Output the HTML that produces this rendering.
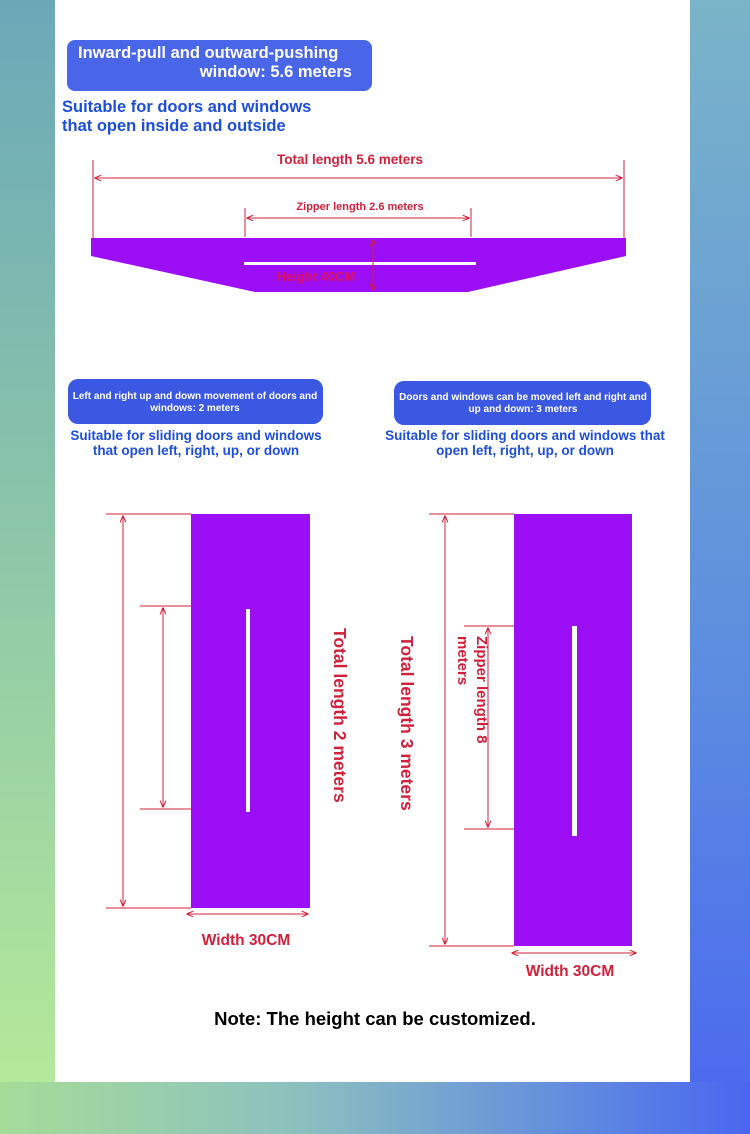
<!DOCTYPE html>
<html><head><meta charset="utf-8"><style>
html,body{margin:0;padding:0}
body{width:750px;height:1134px;position:relative;overflow:hidden;font-family:"Liberation Sans",sans-serif;
background:linear-gradient(90deg,#8fd0a0 0%,#7fb6c8 40%,#5a86e0 75%,#4a6af0 100%);}
.l{position:absolute;left:0;top:0;width:55px;height:1134px;background:linear-gradient(180deg,#6aa8b8 0%,#8fc8a8 50%,#b8ec98 100%)}
.r{position:absolute;left:690px;top:0;width:60px;height:1134px;background:linear-gradient(180deg,#7ab4c8 0%,#5c8ce0 60%,#4a66f0 100%)}
.b{position:absolute;left:0;top:1082px;width:750px;height:52px;background:linear-gradient(90deg,#a6dc98 0%,#8cc0c0 40%,#5d86e2 80%,#4a66f0 100%)}
.w{position:absolute;left:55px;top:0;width:635px;height:1082px;background:#fff}
svg{position:absolute;left:0;top:0}
</style></head><body>
<div class="l"></div><div class="r"></div><div class="b"></div><div class="w"></div>
<svg width="750" height="1134" viewBox="0 0 750 1134" font-family="Liberation Sans, sans-serif" font-weight="bold">
<defs><marker id="a" viewBox="0 0 10 10" refX="9" refY="5" markerWidth="7" markerHeight="7" orient="auto-start-reverse"><path d="M0,1 L10,5 L0,9" fill="none" stroke="#d0203a" stroke-width="1.5"/></marker></defs>
<rect x="67" y="40" width="305" height="51" rx="8" fill="#4a66e8"/>
<text x="78" y="58" fill="#fff" font-size="16.5">Inward-pull and outward-pushing</text>
<text x="352" y="77" fill="#fff" font-size="16.5" text-anchor="end">window: 5.6 meters</text>
<text x="62" y="112" fill="#1d4ed8" font-size="16.5">Suitable for doors and windows</text>
<text x="62" y="131" fill="#1d4ed8" font-size="16.5">that open inside and outside</text>
<g stroke="#d0203a" stroke-width="1" fill="none">
<line x1="93" y1="160" x2="93" y2="238"/><line x1="624" y1="160" x2="624" y2="238"/>
<line x1="95" y1="178" x2="622" y2="178" marker-start="url(#a)" marker-end="url(#a)"/>
<line x1="245" y1="208" x2="245" y2="237"/><line x1="471" y1="208" x2="471" y2="237"/>
<line x1="247" y1="218" x2="469" y2="218" marker-start="url(#a)" marker-end="url(#a)"/>
</g>
<text x="350" y="164" fill="#d0203a" font-size="13.5" text-anchor="middle">Total length 5.6 meters</text>
<text x="360" y="210" fill="#d0203a" font-size="11" text-anchor="middle">Zipper length 2.6 meters</text>
<polygon points="91,238 626,238 626,256 468,292 255,292 91,256" fill="#9b0ef6"/>
<rect x="244" y="262" width="232" height="3" fill="#fff"/>
<line x1="373" y1="240" x2="373" y2="290" stroke="#d0203a" stroke-width="1" marker-start="url(#a)" marker-end="url(#a)"/>
<text x="316" y="281" fill="#e0105a" font-size="13" text-anchor="middle">Height 40CM</text>
<rect x="68" y="379" width="255" height="45" rx="10" fill="#3a58e2"/>
<text x="195" y="399" fill="#fff" font-size="10" text-anchor="middle">Left and right up and down movement of doors and</text>
<text x="195" y="411" fill="#fff" font-size="10" text-anchor="middle">windows: 2 meters</text>
<text x="196" y="440" fill="#1d4ed8" font-size="13.5" text-anchor="middle">Suitable for sliding doors and windows</text>
<text x="196" y="455" fill="#1d4ed8" font-size="13.5" text-anchor="middle">that open left, right, up, or down</text>
<rect x="394" y="381" width="257" height="44" rx="10" fill="#3a58e2"/>
<text x="523" y="400" fill="#fff" font-size="10" text-anchor="middle">Doors and windows can be moved left and right and</text>
<text x="523" y="412" fill="#fff" font-size="10" text-anchor="middle">up and down: 3 meters</text>
<text x="525" y="440" fill="#1d4ed8" font-size="13.5" text-anchor="middle">Suitable for sliding doors and windows that</text>
<text x="525" y="455" fill="#1d4ed8" font-size="13.5" text-anchor="middle">open left, right, up, or down</text>
<rect x="191" y="514" width="119" height="394" fill="#9b0ef6"/>
<rect x="246" y="609" width="4" height="203" fill="#fff"/>
<g stroke="#d0203a" stroke-width="1" fill="none">
<line x1="106" y1="514" x2="191" y2="514"/><line x1="106" y1="908" x2="191" y2="908"/>
<line x1="123" y1="516" x2="123" y2="906" marker-start="url(#a)" marker-end="url(#a)"/>
<line x1="140" y1="606" x2="191" y2="606"/><line x1="140" y1="809" x2="191" y2="809"/>
<line x1="163" y1="608" x2="163" y2="807" marker-start="url(#a)" marker-end="url(#a)"/>
<line x1="187" y1="914" x2="308" y2="914" marker-start="url(#a)" marker-end="url(#a)"/>
</g>
<text transform="translate(334,628) rotate(90)" fill="#d0203a" font-size="17.5">Total length 2 meters</text>
<text x="246" y="945" fill="#d0203a" font-size="15.5" text-anchor="middle">Width 30CM</text>
<rect x="514" y="514" width="118" height="432" fill="#9b0ef6"/>
<rect x="572" y="626" width="5" height="210" fill="#fff"/>
<g stroke="#d0203a" stroke-width="1" fill="none">
<line x1="429" y1="514" x2="514" y2="514"/><line x1="429" y1="946" x2="514" y2="946"/>
<line x1="445" y1="516" x2="445" y2="944" marker-start="url(#a)" marker-end="url(#a)"/>
<line x1="464" y1="626" x2="514" y2="626"/><line x1="464" y1="829" x2="514" y2="829"/>
<line x1="488" y1="628" x2="488" y2="827" marker-start="url(#a)" marker-end="url(#a)"/>
<line x1="512" y1="953" x2="636" y2="953" marker-start="url(#a)" marker-end="url(#a)"/>
</g>
<text transform="translate(401,636) rotate(90)" fill="#d0203a" font-size="17.5">Total length 3 meters</text>
<text transform="translate(477,636) rotate(90)" fill="#d0203a" font-size="15">Zipper length 8</text>
<text transform="translate(458,636) rotate(90)" fill="#d0203a" font-size="15">meters</text>
<text x="570" y="976" fill="#d0203a" font-size="15.5" text-anchor="middle">Width 30CM</text>
<text x="375" y="1025" fill="#000" font-size="18.5" text-anchor="middle">Note: The height can be customized.</text>
</svg>
</body></html>
